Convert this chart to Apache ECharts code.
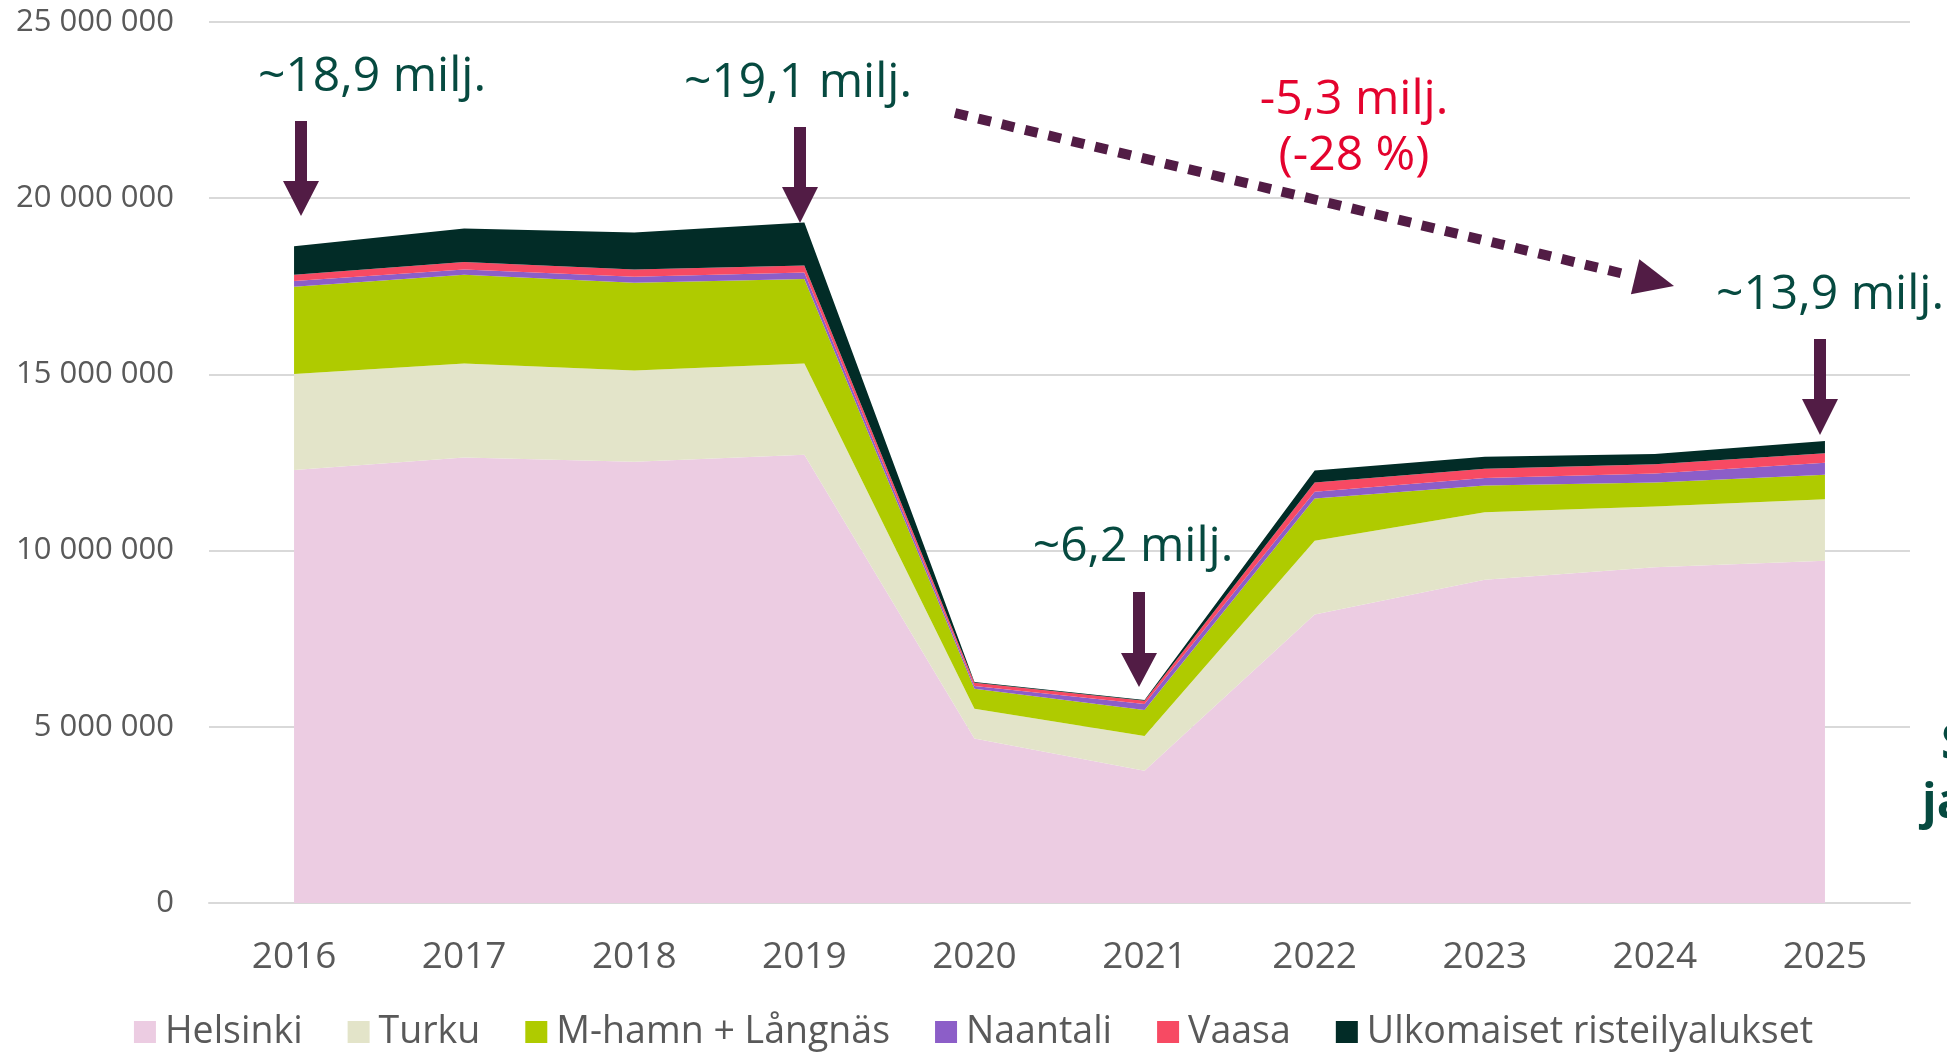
<!DOCTYPE html>
<html>
<head>
<meta charset="utf-8">
<script src="https://cdn.jsdelivr.net/npm/echarts@6/dist/echarts.min.js"></script>
<style>
html,body{margin:0;padding:0;background:#fff;}
#c{width:1947px;height:1052px;}
</style>
</head>
<body>
<div id="c"></div>
<script>
const years = ['2016','2017','2018','2019','2020','2021','2022','2023','2024','2025'];
const helsinki   = [12290000,12640000,12520000,12720000,4670000,3750000,8190000,9170000,9530000,9710000];
const turku      = [2720000,2670000,2590000,2590000,840000,990000,2090000,1920000,1720000,1750000];
const mhamn      = [2480000,2520000,2490000,2400000,570000,740000,1200000,760000,680000,690000];
const naantali   = [160000,150000,170000,180000,80000,170000,190000,210000,260000,340000];
const vaasa      = [180000,210000,210000,200000,90000,90000,260000,260000,260000,270000];
const ulkomaiset = [810000,950000,1050000,1220000,20000,20000,340000,340000,290000,350000];
const seriesNames = ['Helsinki','Turku','M-hamn + Långnäs','Naantali','Vaasa','Ulkomaiset risteilyalukset'];
const seriesColors = ['#ecccE2','#e3e4c9','#afcb00','#8c5ec8','#f74a63','#022c27'];
const seriesData = [helsinki,turku,mhamn,naantali,vaasa,ulkomaiset];

const FONT = '"Open Sans", "Noto Sans", sans-serif';
const TEAL = '#064a40';
const RED = '#e4032e';
const PURP = '#521c45';

function fmt(v){ return String(v).replace(/\B(?=(\d{3})+(?!\d))/g,' '); }

function vArrow(cx, y0, y1, y2){
  const sw = 6, hw = 18;
  return {type:'polygon', z:100, shape:{points:[[cx-sw,y0],[cx+sw,y0],[cx+sw,y1],[cx+hw,y1],[cx,y2],[cx-hw,y1],[cx-sw,y1]]}, style:{fill:PURP}};
}
function label(text, x, y, color, extra){
  return Object.assign({type:'text', z:100, x:x, y:y, style:{text:text, fill:color, fontSize:48, fontWeight:500, fontFamily:FONT, align:'center', verticalAlign:'middle'}}, extra||{});
}

// dotted arrow geometry
const dStart=[955,113], dTip=[1674,286];
const dx=dTip[0]-dStart[0], dy=dTip[1]-dStart[1], L=Math.sqrt(dx*dx+dy*dy);
const ux=dx/L, uy=dy/L, nx=-uy, ny=ux;
const hl=40, hw2=18;
const bc=[dTip[0]-hl*ux, dTip[1]-hl*uy];

const chart = echarts.init(document.getElementById('c'));
chart.setOption({
  animation:false,
  grid:{left:209, right:37, top:22, bottom:149, containLabel:false},
  legend:{
    data:seriesNames, top:1008, left:'center',
    icon:'rect', itemWidth:22, itemHeight:22, itemGap:45,
    textStyle:{fontSize:37.5, color:'#595959', fontFamily:FONT, padding:[0,0,0,4]}
  },
  xAxis:{
    type:'category', data:years, boundaryGap:true,
    axisLine:{show:true, lineStyle:{color:'#d9d9d9', width:2}},
    axisTick:{show:false},
    axisLabel:{fontSize:37, color:'#595959', fontFamily:FONT, margin:36}
  },
  yAxis:{
    type:'value', min:0, max:25000000, interval:5000000,
    axisLine:{show:false}, axisTick:{show:false},
    splitLine:{lineStyle:{color:'#d9d9d9', width:2}},
    axisLabel:{fontSize:31, color:'#595959', fontFamily:FONT, margin:35, formatter:fmt}
  },
  series: seriesNames.map((n,i)=>({
    name:n, type:'line', stack:'total', data:seriesData[i],
    symbol:'none', showSymbol:false,
    lineStyle:{width:0, opacity:0},
    itemStyle:{color:seriesColors[i]},
    areaStyle:{color:seriesColors[i], opacity:1}
  })),
  graphic:[
    label('~18,9 milj.', 372, 77, TEAL),
    label('~19,1 milj.', 798, 83, TEAL),
    label('-5,3 milj.', 1354, 100, RED),
    label('(-28 %)', 1354, 156, RED),
    label('~13,9 milj.', 1830, 295, TEAL),
    label('~6,2 milj.', 1133, 547, TEAL),
    vArrow(301,121,181,216),
    vArrow(800,127,187,223),
    vArrow(1139,592,653,687),
    vArrow(1820,339,399,435),
    {type:'line', z:100, shape:{x1:dStart[0], y1:dStart[1], x2:bc[0]-4*ux, y2:bc[1]-4*uy},
     style:{stroke:PURP, lineWidth:10, lineDash:[13,11], lineCap:'butt'}},
    {type:'polygon', z:100, shape:{points:[[dTip[0],dTip[1]],[bc[0]+hw2*nx,bc[1]+hw2*ny],[bc[0]-hw2*nx,bc[1]-hw2*ny]]}, style:{fill:PURP}},
    {type:'text', z:100, x:1941, y:745, style:{text:'S', fill:TEAL, fontSize:48, fontWeight:'bold', fontFamily:FONT, align:'left', verticalAlign:'middle'}},
    {type:'text', z:100, x:1922, y:804, style:{text:'ja', fill:TEAL, fontSize:48, fontWeight:'bold', fontFamily:FONT, align:'left', verticalAlign:'middle'}}
  ]
});
</script>
</body>
</html>
